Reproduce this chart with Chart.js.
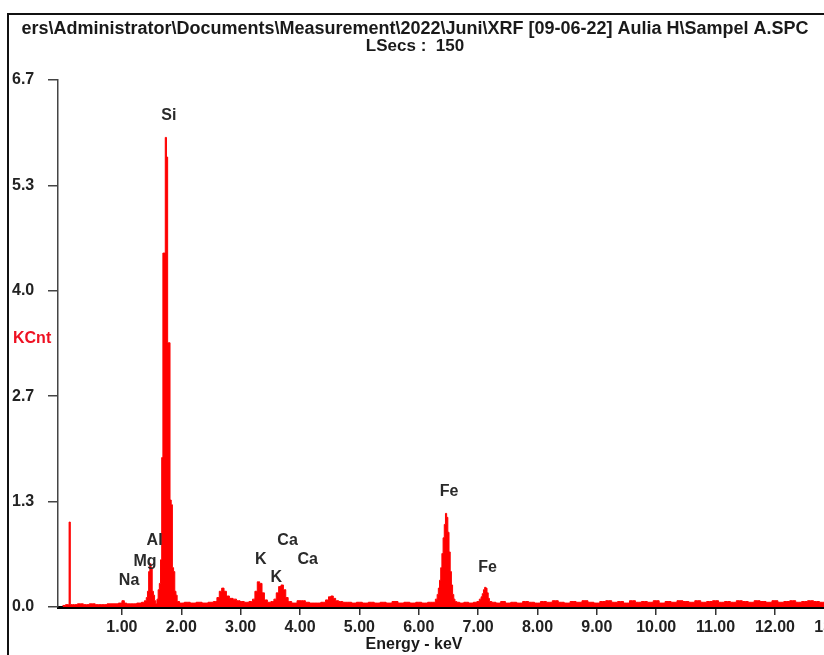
<!DOCTYPE html>
<html>
<head>
<meta charset="utf-8">
<script src="https://cdn.jsdelivr.net/npm/chart.js@4/dist/chart.umd.min.js"></script>
<style>
html,body{margin:0;padding:0;background:#fff;overflow:hidden;width:824px;height:655px;}
canvas{display:block;}
</style>
</head>
<body>
<canvas id="c" width="880" height="655"></canvas>
<script>
// ---- Data (energy in keV, counts in KCnt) ----
const lowE = [0.00,0.10,0.12,0.14,0.20,0.30,0.40,0.50,0.60,0.70,0.80,0.90,0.98,1.02,1.06,1.10,1.20,1.30,1.36];
const lowK = [0.02,0.03,1.08,0.03,0.03,0.04,0.03,0.04,0.03,0.03,0.04,0.04,0.05,0.08,0.05,0.04,0.04,0.05,0.06];

const alSiE = [1.40,1.42,1.44,1.46,1.48,1.50,1.52,1.54,1.56,1.58,
               1.60,1.62,1.64,1.66,1.68,1.70,1.72,1.74,1.76,1.78,1.80,1.82,1.84,1.86,1.88,1.90,1.92,1.94,
               2.00,2.10,2.20,2.30,2.40,2.50,2.58];
const alSiK = [0.08,0.12,0.20,0.45,0.55,0.50,0.20,0.15,0.08,0.04,
               0.10,0.22,0.30,0.60,1.90,4.50,4.50,5.97,5.72,3.36,3.36,1.36,1.30,0.50,0.45,0.20,0.15,0.07,
               0.05,0.06,0.05,0.06,0.05,0.06,0.07];

const kCaE = [2.62,2.66,2.70,2.74,2.78,2.84,2.90,2.96,3.02,3.10,3.18,
              3.22,3.26,3.30,3.34,3.38,3.42,3.48,3.54,3.58,
              3.62,3.66,3.70,3.74,3.78,3.82,3.90,
              4.00,4.06,4.12,4.20,4.30,4.40,
              4.46,4.50,4.54,4.58,4.62,4.68,4.76,4.84];
const kCaK = [0.12,0.20,0.24,0.20,0.14,0.11,0.10,0.08,0.07,0.06,0.07,
              0.10,0.20,0.32,0.30,0.18,0.09,0.06,0.07,0.10,
              0.18,0.26,0.28,0.22,0.12,0.07,0.05,
              0.08,0.08,0.06,0.05,0.05,0.06,
              0.09,0.13,0.14,0.11,0.08,0.07,0.06,0.06];

const feE = [4.90,5.00,5.10,5.20,5.30,5.40,5.50,5.60,5.70,5.80,5.90,6.00,6.10,6.20,6.26,
             6.30,6.32,6.34,6.36,6.38,6.40,6.42,6.44,6.46,6.48,6.50,6.52,6.54,6.56,6.58,6.60,6.62,
             6.66,6.72,6.80,6.88,6.96,
             7.00,7.04,7.06,7.08,7.10,7.12,7.14,7.16,7.18,7.20];
const feK = [0.05,0.06,0.05,0.06,0.05,0.06,0.05,0.07,0.05,0.06,0.05,0.06,0.05,0.06,0.06,
             0.10,0.16,0.24,0.34,0.50,0.68,0.88,1.05,1.19,1.14,0.95,0.70,0.45,0.28,0.16,0.10,0.07,
             0.06,0.05,0.06,0.05,0.06,
             0.07,0.10,0.13,0.17,0.22,0.25,0.24,0.18,0.11,0.07];

const highE = [7.26,7.34,7.42,7.50,
               7.60,7.70,7.80,7.90,8.00,8.10,8.20,8.30,8.40,8.50,
               8.60,8.70,8.80,8.90,9.00,9.10,9.20,9.30,9.40,9.50,
               9.60,9.70,9.80,9.90,10.00,10.10,10.20,10.30,10.40,10.50,
               10.60,10.70,10.80,10.90,11.00,11.10,11.20,11.30,11.40,11.50,
               11.60,11.70,11.80,11.90,12.00,12.10,12.20,12.30,12.40,12.50,
               12.60,12.70,12.80,12.90,13.00,13.10,13.20,13.30,13.40,13.50,
               13.60,13.70,13.80];
const highK = [0.06,0.05,0.07,0.05,
               0.06,0.05,0.07,0.06,0.05,0.07,0.06,0.08,0.06,0.05,
               0.07,0.06,0.08,0.06,0.05,0.07,0.08,0.06,0.07,0.05,
               0.08,0.06,0.07,0.06,0.08,0.05,0.07,0.06,0.08,0.07,
               0.06,0.08,0.06,0.07,0.08,0.06,0.07,0.06,0.08,0.07,
               0.06,0.08,0.07,0.06,0.08,0.06,0.07,0.08,0.06,0.07,
               0.08,0.07,0.06,0.08,0.07,0.06,0.08,0.07,0.06,0.07,
               0.08,0.06,0.07];

const xTickValues = [1,2,3,4,5,6,7,8,9,10,11,12,13];
const yTickValues = [0, 1.34, 2.68, 4.02, 5.36, 6.7];
const yTickLabels = ['0.0','1.3','2.7','4.0','5.3','6.7'];

const peakNames  = ['Na','Mg','Al','Si','K','K','Ca','Ca','Fe','Fe'];
const peakLabelE = [1.12,1.39,1.55,1.79,3.34,3.60,3.79,4.13,6.51,7.16];
const peakLabelK = [0.34,0.58,0.85,6.25,0.60,0.37,0.85,0.60,1.47,0.50];

const titleLines = ['ers\\Administrator\\Documents\\Measurement\\2022\\Juni\\XRF [09-06-22] Aulia H\\Sampel A.SPC', 'LSecs :  150'];
const xTitle = 'Energy - keV';
const yTitle = 'KCnt';

// ---- Build the point list ----
const energy = [].concat(lowE, alSiE, kCaE, feE, highE);
const counts = [].concat(lowK, alSiK, kCaK, feK, highK);
const points = energy.map((e, i) => ({x: e, y: counts[i]}));

const FONT = '"Liberation Sans", Arial, sans-serif';

const decor = {
  id: 'decor',
  beforeDraw(chart) {
    const ctx = chart.ctx;
    ctx.save();
    ctx.fillStyle = '#fff';
    ctx.fillRect(0, 0, chart.width, chart.height);
    ctx.strokeStyle = '#111';
    ctx.lineWidth = 2;
    ctx.beginPath();
    ctx.moveTo(8, chart.height);
    ctx.lineTo(8, 14);
    ctx.lineTo(chart.width, 14);
    ctx.stroke();
    ctx.restore();
  },
  afterDraw(chart) {
    const ctx = chart.ctx;
    const xs = chart.scales.x, ys = chart.scales.y;
    ctx.save();
    ctx.textBaseline = 'middle';
    ctx.textAlign = 'center';
    ctx.fillStyle = '#1a1a1a';
    ctx.font = 'bold 18px ' + FONT;
    ctx.fillText(titleLines[0], 415, 29, 800);
    ctx.font = 'bold 17px ' + FONT;
    ctx.fillText(titleLines[1], 415, 46);
    ctx.font = 'bold 16px ' + FONT;
    ctx.fillText(xTitle, 414, 645);
    ctx.textAlign = 'left';
    ctx.fillStyle = '#ee1122';
    ctx.fillText(yTitle, 13, 339);
    ctx.textAlign = 'center';
    ctx.fillStyle = '#2a2a2a';
    peakNames.forEach((n, i) => {
      ctx.fillText(n, xs.getPixelForValue(peakLabelE[i]), ys.getPixelForValue(peakLabelK[i]));
    });
    ctx.restore();
  }
};

new Chart(document.getElementById('c'), {
  type: 'line',
  data: {
    datasets: [{
      data: points,
      parsing: false,
      stepped: 'middle',
      borderColor: '#ff0000',
      backgroundColor: '#ff0000',
      borderWidth: 1,
      fill: 'origin',
      pointRadius: 0
    }]
  },
  options: {
    responsive: false,
    animation: false,
    devicePixelRatio: 1,
    layout: { padding: { top: 80, left: 12, right: 0, bottom: 0 } },
    plugins: { legend: { display: false }, tooltip: { enabled: false }, title: { display: false } },
    scales: {
      x: {
        type: 'linear',
        min: -0.077,
        max: 13.77,
        afterBuildTicks: s => { s.ticks = xTickValues.map(v => ({value: v})); },
        afterFit: s => { s.height = 48; },
        ticks: {
          callback: v => Number(v).toFixed(2),
          font: { family: FONT, size: 16, weight: 'bold' },
          color: '#222',
          padding: 3,
          maxRotation: 0,
          autoSkip: false
        },
        grid: { drawOnChartArea: false, drawTicks: true, tickLength: 8, color: '#333', lineWidth: 1.5 },
        border: { display: true, color: '#000', width: 3 }
      },
      y: {
        type: 'linear',
        min: 0,
        max: 6.7,
        afterBuildTicks: s => { s.ticks = yTickValues.map(v => ({value: v})); },
        afterFit: s => { s.width = 46; },
        ticks: {
          callback: (v, i) => yTickLabels[i],
          font: { family: FONT, size: 16, weight: 'bold' },
          color: '#222',
          crossAlign: 'far',
          autoSkip: false
        },
        grid: { drawOnChartArea: false, drawTicks: true, tickLength: 10, color: '#444', lineWidth: 1.5 },
        border: { display: true, color: '#444', width: 1.5 }
      }
    }
  },
  plugins: [decor]
});
</script>
</body>
</html>
